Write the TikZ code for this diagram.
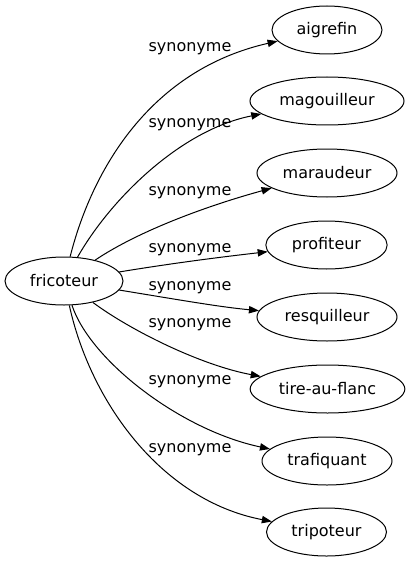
\documentclass[tikz,border=0pt]{standalone}
\usepackage{fontspec}
\setmainfont{DejaVu Sans}
\usetikzlibrary{shapes.geometric,arrows.meta}
\begin{document}
\begin{tikzpicture}[x=0.75pt,y=-0.75pt,
  word/.style={draw,ellipse,inner sep=0pt,minimum height=36pt,line width=0.75pt,font=\fontsize{12}{14}\selectfont},
  lab/.style={inner sep=0pt,font=\fontsize{12}{14}\selectfont},
  edge/.style={line width=0.75pt,-{Triangle[length=7.5pt,width=5.5pt]}}]
\useasboundingbox (0,0) rectangle (410,563);
\node[word,minimum width=88.5pt] (f) at (64,281) {fricoteur};
\node[word,minimum width=82.5pt] (n1) at (327,30) {aigrefin};
\node[word,minimum width=115.5pt] (n2) at (327,101) {magouilleur};
\node[word,minimum width=105pt] (n3) at (327,173) {maraudeur};
\node[word,minimum width=91pt] (n4) at (326.5,245) {profiteur};
\node[word,minimum width=105pt] (n5) at (327,317) {resquilleur};
\node[word,minimum width=116pt] (n6) at (327.5,389) {tire-au-flanc};
\node[word,minimum width=97.5pt] (n7) at (327,461) {trafiquant};
\node[word,minimum width=90pt] (n8) at (326.5,532) {tripoteur};
\node[lab] (l1) at (190,49) {synonyme};
\node[lab] (l2) at (190,125) {synonyme};
\node[lab] (l3) at (190,193) {synonyme};
\node[lab] (l4) at (190,250) {synonyme};
\node[lab] (l5) at (190,288) {synonyme};
\node[lab] (l6) at (190,325) {synonyme};
\node[lab] (l7) at (190,382) {synonyme};
\node[lab] (l8) at (190,450) {synonyme};
\draw[edge] (f) .. controls (92,170) and (150,70) .. (n1);
\draw[edge] (f) .. controls (110,200) and (180,130) .. (n2);
\draw[edge] (f) .. controls (140,230) and (210,205) .. (n3);
\draw[edge] (f) .. controls (180,262) and (230,256) .. (n4);
\draw[edge] (f) .. controls (180,300) and (220,307) .. (n5);
\draw[edge] (f) .. controls (130,330) and (200,365) .. (n6);
\draw[edge] (f) .. controls (90,360) and (180,430) .. (n7);
\draw[edge] (f) .. controls (90,400) and (160,500) .. (n8);
\end{tikzpicture}
\end{document}
